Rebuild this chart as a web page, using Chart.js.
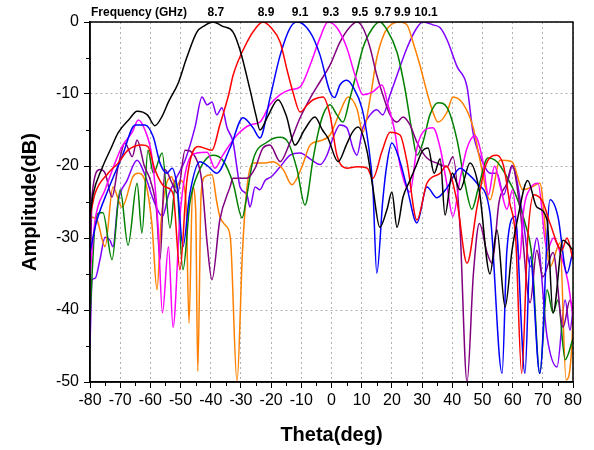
<!DOCTYPE html>
<html>
<head>
<meta charset="utf-8">
<script src="https://cdn.jsdelivr.net/npm/chart.js@4.4.0/dist/chart.umd.min.js"></script>
<style>
  body { margin: 0; background: #fff; }
  canvas { display: block; }
</style>
</head>
<body>
<canvas id="patternChart" width="594" height="450"></canvas>
<script>
// --- Frequencies (GHz) and line colours ---
const freqs = ['8.7', '8.9', '9.1', '9.3', '9.5', '9.7', '9.9', '10.1'];
const colors = ['#000000', '#ff0000', '#0000ff', '#ff00ff', '#800080', '#008000', '#ff8000', '#8000ff'];

const xTicks = [-80, -70, -60, -50, -40, -30, -20, -10, 0, 10, 20, 30, 40, 50, 60, 70, 80];
const yTicks = [0, -10, -20, -30, -40, -50];

// --- Theta (deg) / amplitude (dB) per frequency ---
const theta87 = [-80, -79, -76, -73, -70.7, -67, -64.4, -61, -58.5, -56, -54, -50.8, -48, -44.6, -42, -39.3, -36, -32.6, -30.3, -27, -25, -23.7, -21, -17.7, -15, -12.1, -9, -5.5, -3, -1.2, 2.2, 5, 6.8, 8.8, 11.8, 13.7, 16, 18.4, 20, 21.7, 23.7, 26, 28, 30, 32, 34, 36, 37.6, 40, 42.6, 45.9, 48.9, 52.5, 54.8, 57.5, 59.8, 61.8, 65, 68, 71.4, 73.4, 76.7, 80];
const amp87 = [-27, -24, -20.3, -17.5, -15.4, -13.5, -12.4, -12.9, -14.4, -13, -11.1, -8.5, -5, -1.4, -0.5, 0, -0.6, -1.4, -3.9, -9.4, -13, -15, -13, -10.8, -13, -17.1, -15, -13.2, -15, -16.1, -19.4, -17, -15.4, -14.6, -18, -23, -28.5, -26, -23.6, -28.5, -24.3, -22, -20, -18, -17.5, -21, -19, -26.8, -21, -23.3, -19.6, -23.3, -35, -28.9, -39.6, -31.7, -27, -22, -25.7, -27.5, -40.4, -30.3, -31.7];

const theta89 = [-80, -78.3, -74, -70.7, -67.4, -62.8, -60.8, -58.5, -55.2, -52.5, -50.2, -47.9, -44.2, -39.6, -37, -34, -32.6, -28, -25, -22.7, -20, -17, -14.7, -12.8, -10.4, -8, -6.1, -2.8, -0.5, 1.8, 5.1, 8.4, 11.8, 13.7, 16.7, 19.4, 22.7, 25, 28.3, 31.6, 36, 38, 41.6, 44.9, 48.2, 51, 54.8, 57, 59, 61, 63, 65, 67, 70, 72.4, 76.3, 78, 80];
const amp89 = [-27, -23.8, -21, -19.6, -17.8, -17.1, -17.3, -20.5, -22.9, -23.8, -34.4, -22, -17.3, -17.8, -14.3, -10, -7.4, -2.8, -0.8, 0, -0.8, -2.8, -6.7, -9.7, -12.5, -11.5, -10.8, -10.4, -12.9, -18.5, -20.3, -20.1, -20.3, -21.7, -18, -15.3, -15.7, -19.4, -27.5, -22.4, -21, -20, -25, -33.5, -25.7, -20, -18.5, -20, -25, -30, -48.8, -30, -24, -25, -28, -31.7, -30, -33];

const theta91 = [-80, -78, -74, -69.4, -65, -61.8, -59, -56.8, -54.5, -52.8, -51, -49.2, -47, -43.6, -41, -38, -33.6, -29.3, -26, -23.7, -20.4, -17, -13.7, -11.4, -7.1, -3.8, -0.5, 1, 2.8, 5.1, 7.1, 10.1, 12.1, 13.7, 15, 17, 18.4, 20, 22.7, 25, 28.3, 31.6, 34.9, 38.3, 42.6, 45, 48.2, 52.5, 56.5, 58.1, 60.8, 64.1, 65.8, 69, 72.4, 75, 78, 80];
const amp91 = [-32, -28, -23.3, -18.7, -14.3, -14.3, -16, -19.6, -21, -20.3, -23.3, -31.2, -24, -19.4, -20, -21, -17.5, -13.3, -14.7, -16.1, -10.6, -4.6, -0.8, 0, -1.4, -4.6, -9.7, -10.5, -8.75, -8.1, -9, -12, -16.7, -23, -34.9, -24.7, -19.6, -16.8, -19.4, -23, -27.9, -22.9, -24.4, -23, -20.3, -21, -22.4, -26.5, -48.8, -31.7, -27, -48.8, -32.6, -48.8, -24.7, -27, -34.9, -31.7];

const theta93 = [-80, -78.3, -75, -69.4, -66, -64, -61.8, -59.5, -57.5, -56, -54, -52.5, -50.2, -47.9, -44.6, -41.2, -38.6, -36, -31.3, -27, -23.7, -20.4, -17, -13.7, -10.4, -7.1, -3.8, -1.2, 1.8, 5.1, 7.8, 10.4, 13.7, 16.7, 18.7, 21, 22.7, 26, 28.3, 30.3, 33.6, 36, 38, 40.2, 42.5, 44.9, 47.5, 50, 52, 54, 56, 58.1, 60, 62.4, 63.4, 66, 68.4, 71.4, 73.5, 75.7, 78.3, 80];
const amp93 = [-35, -27.5, -23.3, -17.3, -15.3, -13.6, -15, -18.7, -28, -40.4, -31.2, -42.4, -27, -20, -18.2, -18.1, -20.3, -18.5, -15.7, -14.3, -13.9, -11.5, -10.1, -9.4, -9, -6, -2.2, 0, -0.8, -3.6, -7.4, -10.1, -9.7, -8.75, -11.5, -15.3, -19.9, -23.6, -17.5, -15.3, -14.7, -17.5, -22, -27, -22, -17.5, -15.8, -19, -24, -20, -23, -26, -23.3, -33, -27, -23, -22.4, -31.7, -30, -32, -36, -41];

const theta95 = [-80, -79.3, -76.7, -75, -72.7, -70.7, -68.4, -66, -64.4, -62, -60, -58, -56.8, -55.2, -52.8, -51, -48.5, -45.2, -43, -41.2, -39.6, -37, -33.6, -32.6, -28, -25.3, -22.7, -20.4, -17, -14, -10.4, -7.1, -3.8, -0.5, 2.8, 6.1, 8.4, 10.4, 12.8, 15, 17, 19.4, 21.7, 23.7, 26, 28.3, 31.6, 34.9, 38.3, 40.2, 42.5, 44.9, 47, 49, 51.5, 53.2, 55.5, 58.1, 59.8, 62.4, 65.8, 68, 70, 73.4, 76.7, 79, 80];
const amp95 = [-38, -24, -20.5, -21, -24.3, -20.1, -16.8, -18.7, -16.4, -20, -22, -26, -33, -20.5, -22.4, -23.8, -17.8, -18.7, -22, -30.7, -35.8, -27.5, -22.9, -21.7, -21.7, -20.3, -17.5, -17.1, -19.4, -17, -13.3, -10.6, -8.3, -6, -2.8, -0.7, 0, -0.8, -3.6, -7.4, -10.1, -12.9, -13.9, -13.2, -14.3, -16.7, -18.9, -19.6, -20.1, -18.7, -28, -50, -35, -28, -32, -33.5, -25, -22.4, -19.9, -25.7, -39, -31.7, -35.4, -32, -42.4, -38.6, -40];

const theta97 = [-80, -79.3, -78.3, -76.7, -75.7, -72.7, -70, -67.4, -64.4, -62.8, -60.8, -59, -56.1, -53.5, -51.5, -49.2, -46.9, -44.2, -39.3, -36, -32.6, -29.6, -28, -26, -21.4, -17, -14.4, -11.4, -8.8, -6.1, -4.5, -2.8, -0.5, 1.8, 3.8, 6.1, 8.4, 10.4, 13.7, 16, 18.4, 21.7, 24.3, 26.7, 28.3, 30.3, 32.6, 35.3, 38.3, 41.6, 44.2, 46.5, 48.5, 51.8, 54.8, 58.1, 61, 64.1, 66.4, 69, 71.4, 73.4, 75, 77.4, 80];
const amp97 = [-41, -35, -28, -26.5, -26.5, -33, -23.3, -31, -22.4, -29.3, -17.8, -21, -18.2, -28.6, -22, -34.4, -25.1, -21, -18.5, -19.2, -22.4, -27.2, -24, -19.2, -16.7, -16, -16.7, -20.5, -25.4, -19, -15.5, -12.9, -11.5, -12.9, -13.9, -10.6, -6.9, -3.6, -0.8, 0, -1.1, -4.2, -9.2, -15.3, -18.5, -16.7, -12.9, -11.2, -11.9, -16.4, -22.4, -26, -23.3, -18.9, -19.4, -21.5, -24, -27.9, -32.6, -48.8, -37.2, -40.4, -38.6, -46.9, -44];

const theta99 = [-80, -77.7, -75, -72.4, -69.4, -65.8, -64.1, -61.8, -59.5, -57.8, -56.5, -55, -53, -51.5, -50, -48.2, -47.2, -46, -45, -44.3, -43.2, -42, -39.6, -38, -37, -35, -33.5, -31.3, -29.5, -28, -26, -22.7, -19.4, -16, -13.1, -9.8, -7.1, -3.8, -0.5, 2.8, 5.5, 8.4, 10.4, 12.8, 15, 17.7, 20, 22.5, 25, 27, 29.3, 31.6, 33.6, 35.3, 38.3, 40.2, 43.5, 46.9, 49.2, 52.5, 55.8, 59.8, 63.4, 66, 69, 72.4, 75.7, 77.7, 79.7, 80];
const amp99 = [-27, -27.5, -31.2, -22.9, -25.7, -21.5, -21, -22, -28, -37.2, -28, -23, -21.5, -23, -22, -25, -41.8, -23, -26, -48.5, -24, -21.5, -21.2, -25, -27, -28.3, -30, -50, -32, -23, -19.6, -19.6, -19.4, -20.5, -22.6, -20.1, -17.1, -16.5, -15.7, -12.5, -10.4, -12, -15.3, -10.6, -5, -1.4, -0.3, 0, -0.4, -2.8, -6, -9.7, -12.5, -13.9, -12.5, -10.4, -11.3, -14.6, -19.2, -24.7, -19.2, -19.4, -23.3, -23, -22.4, -34, -30.7, -49.7, -44.2, -40];

const theta101 = [-80, -79.3, -78.3, -76.7, -75, -73.4, -72.4, -70.7, -67.7, -64.4, -62, -59, -56, -54, -51.8, -48.5, -45.2, -42.9, -41.2, -39.6, -38, -36.3, -34.6, -32.6, -31.3, -30.3, -28, -27, -25.3, -23.7, -22, -20, -17, -13.7, -10.4, -7.1, -3.8, -1.5, 0.5, 2.8, 5.1, 7.1, 8.4, 10.4, 12.8, 15, 17, 19.4, 21.7, 25, 28.3, 30.3, 33.6, 36, 38.3, 41.6, 44.9, 46.9, 50.2, 52.5, 54.8, 57, 60, 63, 66, 68, 71.4, 74.7, 77.4, 79, 80];
const amp101 = [-45, -35.8, -35.6, -33, -29.9, -30.3, -31.2, -25, -22, -19.2, -21, -24.7, -27, -24, -22, -19.2, -14.6, -10.4, -11.5, -11.1, -12.9, -11.9, -14.7, -16.7, -20.3, -22.9, -24, -25.7, -22.9, -23.3, -22, -21.5, -20.1, -18.5, -18.2, -19, -19.8, -18.5, -16.1, -14.3, -14.7, -17.5, -18.5, -14.7, -12.9, -12.2, -12.9, -10.1, -7.4, -3.6, -0.8, 0, -0.4, -0.8, -2.5, -6.2, -9, -15.4, -19.6, -21, -21, -24, -20, -26, -34, -30, -43.7, -47.9, -38.6, -42.8, -40];

const thetas = [theta87, theta89, theta91, theta93, theta95, theta97, theta99, theta101];
const amps = [amp87, amp89, amp91, amp93, amp95, amp97, amp99, amp101];

// --- frame, short minor ticks, frequency labels above each main beam ---
const framePlugin = {
  id: 'framePlugin',
  afterDraw(chart) {
    const { ctx, chartArea, scales } = chart;
    ctx.save();
    ctx.strokeStyle = '#000';
    ctx.lineWidth = 1.5;
    ctx.strokeRect(chartArea.left, chartArea.top, chartArea.right - chartArea.left, chartArea.bottom - chartArea.top);

    // minor ticks (half steps), shorter than the major ones
    ctx.lineWidth = 1;
    ctx.beginPath();
    scales.x.ticks.forEach(t => {
      if (xTicks.includes(t.value)) return;
      const px = Math.round(scales.x.getPixelForValue(t.value)) + 0.5;
      ctx.moveTo(px, chartArea.bottom);
      ctx.lineTo(px, chartArea.bottom + 4);
    });
    scales.y.ticks.forEach(t => {
      if (yTicks.includes(t.value)) return;
      const py = Math.round(scales.y.getPixelForValue(t.value)) + 0.5;
      ctx.moveTo(chartArea.left, py);
      ctx.lineTo(chartArea.left - 4, py);
    });
    ctx.stroke();

    ctx.fillStyle = '#000';
    ctx.font = 'bold 12px Arial, "Liberation Sans"';
    ctx.textBaseline = 'alphabetic';
    ctx.textAlign = 'left';
    ctx.fillText('Frequency (GHz)', chartArea.left + 1, 16);
    ctx.textAlign = 'center';
    chart.data.datasets.forEach((ds, i) => {
      let best = ds.data[0];
      ds.data.forEach(p => { if (p.y > best.y) best = p; });
      const px = scales.x.getPixelForValue(best.x) + 3;
      ctx.fillText(freqs[i], px, 16);
    });
    ctx.restore();
  }
};

const datasets = freqs.map((f, i) => ({
  label: f + ' GHz',
  data: thetas[i].map((t, k) => ({ x: t, y: amps[i][k] })),
  borderColor: colors[i],
  borderWidth: 1.5,
  pointRadius: 0,
  fill: false,
  cubicInterpolationMode: 'monotone'
}));

const tickFont = { family: 'Arial, "Liberation Sans"', size: 16 };
const titleFont = { family: 'Arial, "Liberation Sans"', size: 20, weight: 'bold' };

new Chart(document.getElementById('patternChart'), {
  type: 'line',
  data: { datasets },
  options: {
    responsive: false,
    animation: false,
    layout: { padding: { top: 22, right: 21, left: 0, bottom: 0 } },
    plugins: { legend: { display: false }, tooltip: { enabled: false } },
    scales: {
      x: {
        type: 'linear',
        min: -80,
        max: 80,
        afterFit(scale) { scale.height = 68; },
        ticks: {
          stepSize: 5,
          color: '#000',
          font: tickFont,
          padding: 3,
          maxRotation: 0,
          autoSkip: false,
          callback: v => xTicks.includes(v) ? String(v) : ''
        },
        grid: {
          color: c => xTicks.includes(c.tick.value) ? '#b0b0b0' : 'rgba(0,0,0,0)',
          tickColor: c => xTicks.includes(c.tick.value) ? '#000' : 'rgba(0,0,0,0)',
          tickLength: 6,
          tickBorderDash: [],
          lineWidth: 1
        },
        border: { color: '#000', width: 1.5, dash: [2, 3] },
        title: { display: true, text: 'Theta(deg)', color: '#000', font: titleFont, padding: { top: 0, bottom: 3 } }
      },
      y: {
        min: -50,
        max: 0,
        afterFit(scale) { scale.width = 90; },
        ticks: {
          stepSize: 5,
          color: '#000',
          font: tickFont,
          padding: 5,
          autoSkip: false,
          callback: v => yTicks.includes(v) ? String(v) : ''
        },
        grid: {
          color: c => yTicks.includes(c.tick.value) ? '#b0b0b0' : 'rgba(0,0,0,0)',
          tickColor: c => yTicks.includes(c.tick.value) ? '#000' : 'rgba(0,0,0,0)',
          tickLength: 6,
          tickBorderDash: [],
          lineWidth: 1
        },
        border: { color: '#000', width: 1.5, dash: [2, 3] },
        title: { display: true, text: 'Amplitude(dB)', color: '#000', font: titleFont, padding: { top: 18, bottom: 0 } }
      }
    }
  },
  plugins: [framePlugin]
});
</script>
</body>
</html>
